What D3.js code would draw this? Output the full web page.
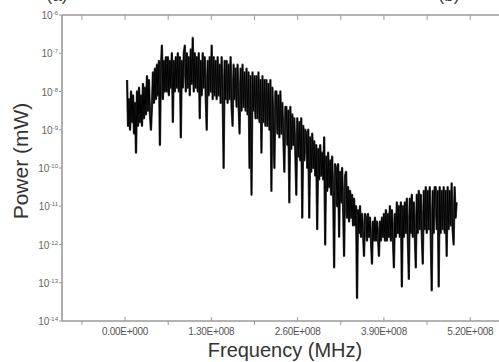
<!DOCTYPE html>
<html>
<head>
<meta charset="utf-8">
<script src="https://cdn.jsdelivr.net/npm/d3@7"></script>
<style>
    body { margin: 0; background: #fff; }
    #spectrum-chart { width: 499px; height: 362px; overflow: hidden; }
    text { font-family: Arial, "Liberation Sans", sans-serif; }
</style>
</head>
<body>
<div id="spectrum-chart"></div>
<script>
// spectrum analyser trace, panel (a)
let freqStart = 3.0e6        // Hz, first sample
let freqStep = 1.5e6         // Hz between samples
// log10 of power (mW)
let powerExp = [
    -7.7, -8.9, -8.2, -9.0, -8.0, -8.8, -8.1, -9.1, -8.3, -9.6,
    -8.0, -8.9, -7.9, -8.8, -8.1, -8.9, -7.8, -8.7, -7.9, -8.6,
    -7.6, -8.5, -7.7, -8.6, -9.0, -8.4, -7.5, -8.3, -7.4, -8.2,
    -7.3, -8.1, -7.2, -9.4, -7.4, -6.8, -8.2, -7.2, -8.0, -7.1,
    -8.0, -7.1, -8.1, -7.2, -7.9, -7.0, -8.8, -7.2, -8.0, -7.1,
    -7.9, -7.0, -8.0, -7.1, -9.2, -7.2, -7.9, -7.0, -6.8, -8.0,
    -7.0, -7.9, -7.1, -8.1, -6.9, -7.8, -6.6, -8.0, -7.0, -7.9,
    -7.1, -8.0, -7.0, -8.7, -7.2, -8.1, -7.0, -7.9, -7.1, -8.1,
    -9.0, -7.2, -8.1, -7.1, -8.0, -6.8, -8.2, -7.1, -8.1, -7.2,
    -8.2, -7.1, -8.1, -7.3, -8.3, -7.1, -8.0, -10.0, -7.2, -8.2,
    -7.2, -8.3, -7.3, -8.2, -7.1, -8.4, -8.9, -7.3, -8.2, -7.4,
    -8.4, -7.3, -8.3, -9.1, -7.4, -8.5, -7.3, -8.4, -7.5, -8.5,
    -7.4, -8.6, -7.5, -10.0, -7.6, -10.7, -7.5, -8.5, -7.6, -8.7,
    -7.6, -8.7, -7.5, -8.8, -7.7, -9.6, -7.6, -8.8, -7.7, -8.9,
    -7.7, -8.9, -7.8, -9.0, -7.7, -10.6, -7.9, -8.9, -10.0, -8.0,
    -8.0, -9.1, -8.1, -9.2, -8.0, -9.1, -8.3, -9.2, -10.1, -8.4,
    -8.4, -9.4, -8.5, -10.9, -8.4, -9.5, -8.6, -9.4, -8.7, -9.6,
    -10.7, -8.7, -9.7, -8.8, -9.8, -8.7, -11.3, -8.9, -9.8, -9.0,
    -9.1, -10.0, -9.0, -11.3, -9.2, -10.1, -9.1, -10.0, -9.3, -10.2,
    -9.4, -11.6, -9.5, -10.3, -9.4, -10.2, -9.6, -10.3, -9.2, -12.0,
    -9.7, -10.6, -9.6, -10.5, -9.8, -10.7, -9.7, -10.6, -12.6, -9.9,
    -10.0, -11.0, -9.9, -11.8, -10.1, -10.9, -10.0, -11.0, -12.3, -10.2,
    -10.1, -11.3, -10.5, -11.4, -10.6, -11.3, -10.7, -11.5, -10.8, -11.5,
    -11.0, -13.4, -11.1, -11.7, -11.0, -11.8, -11.2, -11.7, -12.3, -11.2,
    -11.3, -11.9, -11.2, -11.8, -11.3, -11.9, -12.5, -11.4, -11.9, -11.3,
    -11.9, -11.4, -11.8, -12.3, -11.4, -11.9, -11.3, -11.8, -11.2, -11.9,
    -11.1, -11.9, -11.2, -11.8, -11.0, -11.9, -11.1, -11.8, -12.6, -11.2,
    -11.8, -10.9, -11.7, -11.0, -11.8, -10.9, -13.1, -11.0, -11.8, -10.9,
    -11.7, -10.8, -11.8, -12.9, -10.8, -11.7, -10.7, -11.8, -10.9, -11.7,
    -12.6, -10.7, -11.7, -10.6, -11.6, -10.7, -11.7, -12.5, -10.6, -11.6,
    -10.5, -11.7, -10.6, -11.6, -10.5, -11.7, -13.2, -10.6, -11.7, -10.5,
    -10.5, -11.6, -10.6, -13.1, -10.5, -11.7, -10.6, -11.6, -10.5, -11.7,
    -10.6, -12.3, -10.5, -11.6, -10.6, -11.5, -10.4, -11.6, -12.0, -10.5,
    -11.3, -10.9
]
let xTicks = [0, 1.3e8, 2.6e8, 3.9e8, 5.2e8]
let xMinorTicks = [-0.65e8, 0.65e8, 1.95e8, 3.25e8, 4.55e8, 5.85e8]
let yTickExps = [-6, -7, -8, -9, -10, -11, -12, -13, -14]

let margin = { left: 62, top: 15, right: 520, bottom: 321 }

let svg = d3.select("#spectrum-chart")
                .append("svg")
                    .attr("width", 499)
                    .attr("height", 362)

let x = d3.scaleLinear()
            .domain([-0.95e8, 5.95e8])
            .range([margin.left, margin.right])
let y = d3.scaleLog()
            .domain([1e-14, 1e-6])
            .range([margin.bottom, margin.top])

let trace = powerExp.map((v, i) => ({ f: freqStart + i * freqStep, p: Math.pow(10, v) }))

function sciLabel(v) {
    if (v === 0) return "0.00E+000"
    let e = Math.floor(Math.log10(v))
    let m = v / Math.pow(10, e)
    return m.toFixed(2) + "E+" + String(e).padStart(3, "0")
}

// trace: a soft wide pass under a sharp one so the band reads solid
let traceLine = d3.line().x(d => x(d.f)).y(d => y(d.p))
svg.append("path")
        .datum(trace)
        .attr("fill", "none")
        .attr("stroke", "#3a3a3a")
        .attr("stroke-width", 2.3)
        .attr("stroke-linejoin", "round")
        .attr("d", traceLine)
svg.append("path")
        .datum(trace)
        .attr("fill", "none")
        .attr("stroke", "#000")
        .attr("stroke-width", 1)
        .attr("d", traceLine)

// frame lines
let axisColor = "#9a9a9a"
svg.append("line")
        .attr("x1", margin.left).attr("x2", 499)
        .attr("y1", margin.top).attr("y2", margin.top)
        .attr("stroke", axisColor).attr("stroke-width", 1.6)
svg.append("line")
        .attr("x1", margin.left).attr("x2", 499)
        .attr("y1", margin.bottom).attr("y2", margin.bottom)
        .attr("stroke", axisColor).attr("stroke-width", 1.6)
svg.append("line")
        .attr("x1", margin.left).attr("x2", margin.left)
        .attr("y1", margin.top).attr("y2", margin.bottom)
        .attr("stroke", axisColor).attr("stroke-width", 1.6)

// top ticks, pointing in
svg.selectAll(".top-tick")
        .data(xTicks.concat(xMinorTicks))
        .enter().append("line")
            .attr("class", "top-tick")
            .attr("x1", d => x(d)).attr("x2", d => x(d))
            .attr("y1", margin.top).attr("y2", margin.top + 5)
            .attr("stroke", axisColor).attr("stroke-width", 1)

// bottom ticks
svg.selectAll(".bottom-major")
        .data(xTicks)
        .enter().append("line")
            .attr("class", "bottom-major")
            .attr("x1", d => x(d)).attr("x2", d => x(d))
            .attr("y1", margin.bottom).attr("y2", margin.bottom - 4)
            .attr("stroke", axisColor).attr("stroke-width", 1)
svg.selectAll(".bottom-minor")
        .data(xMinorTicks)
        .enter().append("line")
            .attr("class", "bottom-minor")
            .attr("x1", d => x(d)).attr("x2", d => x(d))
            .attr("y1", margin.bottom).attr("y2", margin.bottom + 4)
            .attr("stroke", axisColor).attr("stroke-width", 1)

svg.selectAll(".x-label")
        .data(xTicks)
        .enter().append("text")
            .attr("class", "x-label")
            .attr("x", d => x(d))
            .attr("y", 335)
            .attr("text-anchor", "middle")
            .attr("font-size", 10)
            .attr("letter-spacing", -0.3)
            .attr("fill", "#555")
            .text(sciLabel)

// left ticks and labels
svg.selectAll(".y-tick")
        .data(yTickExps)
        .enter().append("line")
            .attr("class", "y-tick")
            .attr("x1", margin.left - 3).attr("x2", margin.left)
            .attr("y1", d => y(Math.pow(10, d))).attr("y2", d => y(Math.pow(10, d)))
            .attr("stroke", axisColor).attr("stroke-width", 1)

let yLabels = svg.selectAll(".y-label")
        .data(yTickExps)
        .enter().append("text")
            .attr("class", "y-label")
            .attr("x", 58)
            .attr("y", d => y(Math.pow(10, d)) + 4)
            .attr("text-anchor", "end")
            .attr("fill", "#666")
yLabels.append("tspan")
        .attr("font-size", 10)
        .text("10")
yLabels.append("tspan")
        .attr("font-size", 6)
        .attr("dy", -4)
        .text(d => d)

// axis titles
svg.append("text")
        .attr("transform", "translate(28,161) rotate(-90)")
        .attr("text-anchor", "middle")
        .attr("font-size", 21)
        .attr("fill", "#333")
        .text("Power (mW)")
svg.append("text")
        .attr("x", 285)
        .attr("y", 357)
        .attr("text-anchor", "middle")
        .attr("font-size", 20)
        .attr("fill", "#333")
        .text("Frequency (MHz)")

// panel letters, mostly cropped off at the top
svg.append("text")
        .attr("x", 57).attr("y", 1)
        .attr("text-anchor", "middle")
        .attr("font-family", "Liberation Serif, serif")
        .attr("font-size", 17)
        .attr("fill", "#333")
        .text("(a)")
svg.append("text")
        .attr("x", 449).attr("y", 1)
        .attr("text-anchor", "middle")
        .attr("font-family", "Liberation Serif, serif")
        .attr("font-size", 17)
        .attr("fill", "#333")
        .text("(b)")
</script>
</body>
</html>
